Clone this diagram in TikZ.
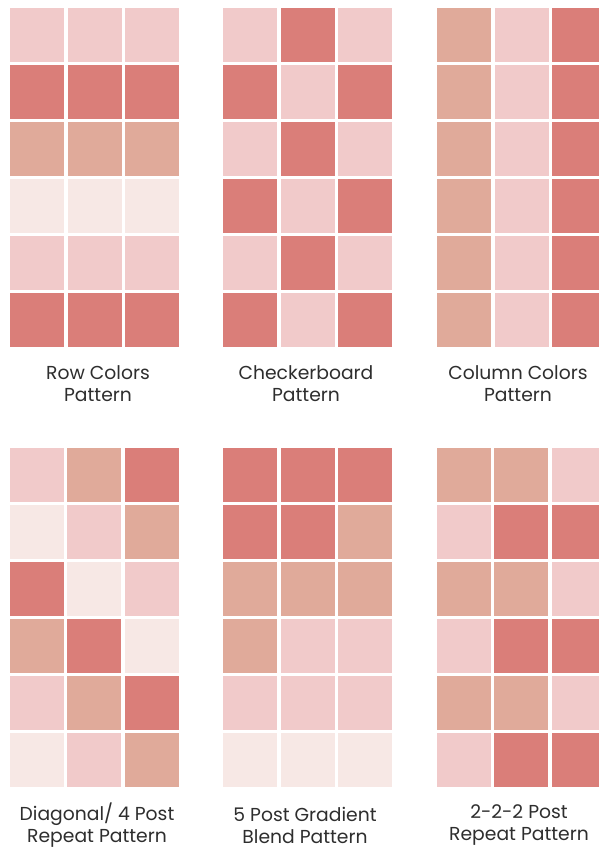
\documentclass[tikz,border=0pt]{standalone}
\usepackage{fontspec}
\newfontfamily\labelfont{Poppins}

\definecolor{rosedk}{HTML}{DA7E79}
\definecolor{rosetan}{HTML}{E0AA9A}
\definecolor{roselt}{HTML}{F1CACA}
\definecolor{rosevl}{HTML}{F7E8E5}
\definecolor{labeltext}{HTML}{2E2E2E}

% one row of three tiles: x0, y0, row, three colours
\newcommand{\tilerow}[6]{%
  \fill[#4] (#1, {#2+57*#3}) rectangle ++(54,54);
  \fill[#5] ({#1+57.5}, {#2+57*#3}) rectangle ++(54,54);
  \fill[#6] ({#1+115}, {#2+57*#3}) rectangle ++(54,54);
}

\begin{document}
\begin{tikzpicture}[x=0.03cm, y=-0.03cm,
    lbl/.style={font=\labelfont\fontsize{16}{18.8}\selectfont, text=labeltext, align=center}]
    % 1. Khung trang
    \clip (0,0) rectangle (599,848);
    \fill[white] (0,0) rectangle (599,848);

    % 2. Row Colors
    \foreach \r/\c in {0/roselt, 1/rosedk, 2/rosetan, 3/rosevl, 4/roselt, 5/rosedk}
        {\tilerow{10}{8}{\r}{\c}{\c}{\c}}
    \node[lbl] (rowcolors) at (98,384) {Row Colors\\Pattern};

    % 3. Checkerboard
    \foreach \r/\a/\b in {0/roselt/rosedk, 1/rosedk/roselt, 2/roselt/rosedk, 3/rosedk/roselt, 4/roselt/rosedk, 5/rosedk/roselt}
        {\tilerow{223}{8}{\r}{\a}{\b}{\a}}
    \node[lbl] (checker) at (306,384) {Checkerboard\\Pattern};

    % 4. Column Colors
    \foreach \r in {0,...,5}
        {\tilerow{437}{8}{\r}{rosetan}{roselt}{rosedk}}
    \node[lbl] (colcolors) at (518,384) {Column Colors\\Pattern};

    % 5. Diagonal/ 4 Post
    \foreach \r/\a/\b/\c in {0/roselt/rosetan/rosedk, 1/rosevl/roselt/rosetan, 2/rosedk/rosevl/roselt,
                             3/rosetan/rosedk/rosevl, 4/roselt/rosetan/rosedk, 5/rosevl/roselt/rosetan}
        {\tilerow{9.5}{448}{\r}{\a}{\b}{\c}}
    \node[lbl] (diagonal) at (97,825) {Diagonal/ 4 Post\\Repeat Pattern};

    % 6. 5 Post Gradient
    \foreach \r/\a/\b/\c in {0/rosedk/rosedk/rosedk, 1/rosedk/rosedk/rosetan, 2/rosetan/rosetan/rosetan,
                             3/rosetan/roselt/roselt, 4/roselt/roselt/roselt, 5/rosevl/rosevl/rosevl}
        {\tilerow{223}{448}{\r}{\a}{\b}{\c}}
    \node[lbl] (gradient) at (305,825) {5 Post Gradient\\Blend Pattern};

    % 7. 2-2-2 Post
    \foreach \r/\a/\b/\c in {0/rosetan/rosetan/roselt, 1/roselt/rosedk/rosedk, 2/rosetan/rosetan/roselt,
                             3/roselt/rosedk/rosedk, 4/rosetan/rosetan/roselt, 5/roselt/rosedk/rosedk}
        {\tilerow{436.5}{448}{\r}{\a}{\b}{\c}}
    \node[lbl] (twotwotwo) at (519,825) {2-2-2 Post\\Repeat Pattern};
\end{tikzpicture}
\end{document}
